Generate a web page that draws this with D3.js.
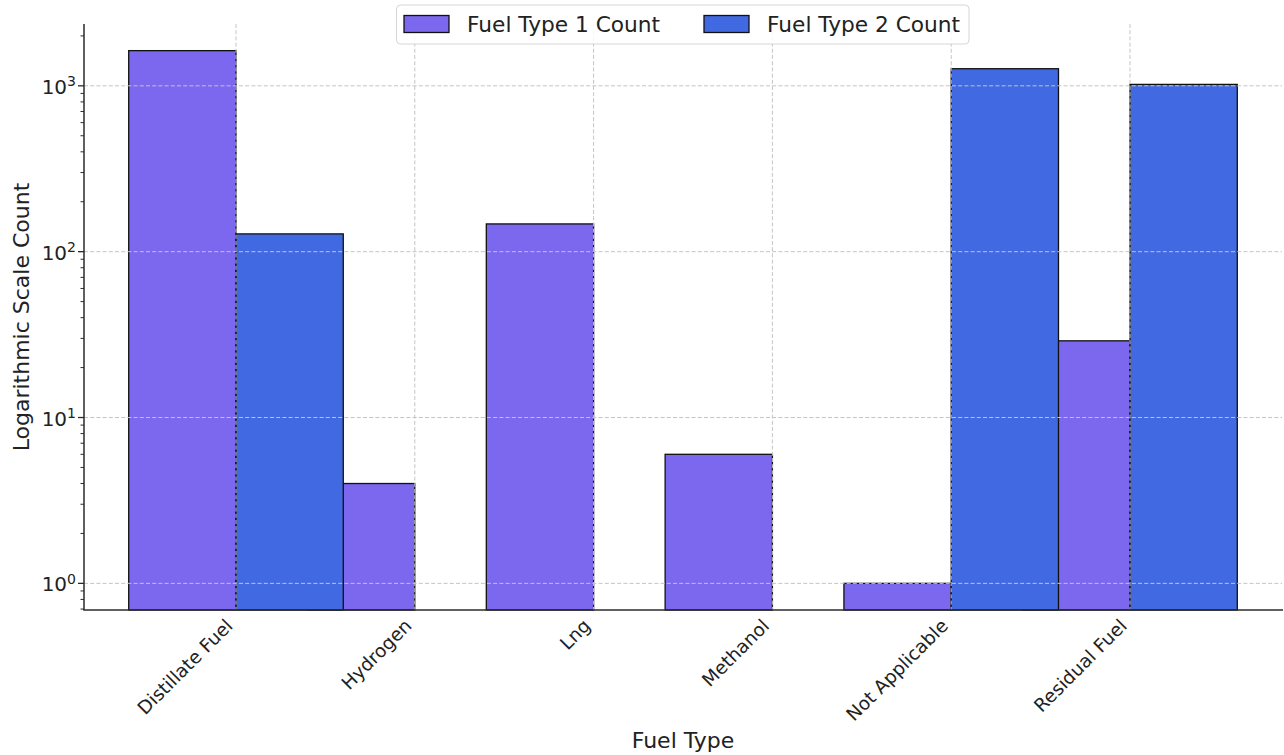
<!DOCTYPE html>
<html>
<head>
<meta charset="utf-8">
<script src="https://cdn.jsdelivr.net/npm/d3@7"></script>
<style>
  html, body { margin: 0; padding: 0; background: #fff; }
  svg { display: block; font-family: "DejaVu Sans", sans-serif; }
</style>
</head>
<body>
<svg id="chart" width="1284" height="755"></svg>
<script>
// Fuel type counts per category (log scale)
const categories = ["Distillate Fuel", "Hydrogen", "Lng", "Methanol", "Not Applicable", "Residual Fuel"];
const fuelType1 = [1630, 4, 147, 6, 1, 29];
const fuelType2 = [128, 0, 0, 0, 1268, 1020];
const seriesNames = ["Fuel Type 1 Count", "Fuel Type 2 Count"];
const seriesColors = ["#7B68EE", "#4169E1"];
const yTickExponents = [0, 1, 2, 3];

const svg = d3.select("#chart");
const plotLeft = 84, plotRight = 1282, plotTop = 24, plotBottom = 610;
const barWidth = 0.6;

const x = d3.scaleLinear().domain([-0.85, categories.length - 1 + 0.85]).range([plotLeft, plotRight]);

// log-scale limits padded by 5% of the decades spanned
const allVals = fuelType1.concat(fuelType2).filter(v => v > 0);
const lmin = Math.log10(d3.min(allVals)), lmax = Math.log10(d3.max(allVals));
const pad = 0.05 * (lmax - lmin);
const y = d3.scaleLog().domain([Math.pow(10, lmin - pad), Math.pow(10, lmax + pad)]).range([plotBottom, plotTop]);
const y0 = y.domain()[0];

// bars: series 1 left of each tick, series 2 right of it
const series = [fuelType1, fuelType2];
const offsets = [-barWidth, 0];
series.forEach((vals, s) => {
  svg.append("g").selectAll("rect")
    .data(vals.map((v, i) => ({ v, i })).filter(d => d.v > 0))
    .join("rect")
    .attr("x", d => x(d.i + offsets[s]))
    .attr("width", d => x(d.i + offsets[s] + barWidth) - x(d.i + offsets[s]))
    .attr("y", d => y(d.v))
    .attr("height", d => y(y0) - y(d.v))
    .attr("fill", seriesColors[s])
    .attr("stroke", "#111")
    .attr("stroke-width", 1.3);
});

// dashed grid drawn over the bars
const grid = svg.append("g")
  .attr("stroke", "#c4c4c4")
  .attr("stroke-width", 1)
  .attr("stroke-dasharray", "4,2.2");
grid.selectAll("line.v").data(categories).join("line")
  .attr("class", "v")
  .attr("x1", (d, i) => x(i)).attr("x2", (d, i) => x(i))
  .attr("y1", plotTop).attr("y2", plotBottom);
grid.selectAll("line.h").data(yTickExponents).join("line")
  .attr("class", "h")
  .attr("x1", plotLeft).attr("x2", plotRight)
  .attr("y1", d => y(Math.pow(10, d))).attr("y2", d => y(Math.pow(10, d)));

// y axis: major and minor ticks
const minorTicks = y.ticks().filter(t => {
  const l = Math.log10(t);
  return Math.abs(l - Math.round(l)) > 1e-9;
});
const axisColor = "#2b2b2b";
svg.append("g").selectAll("line").data(minorTicks).join("line")
  .attr("x1", plotLeft - 3.5).attr("x2", plotLeft)
  .attr("y1", d => y(d)).attr("y2", d => y(d))
  .attr("stroke", axisColor).attr("stroke-width", 1);
svg.append("g").selectAll("line").data(yTickExponents).join("line")
  .attr("x1", plotLeft - 6).attr("x2", plotLeft)
  .attr("y1", d => y(Math.pow(10, d))).attr("y2", d => y(Math.pow(10, d)))
  .attr("stroke", axisColor).attr("stroke-width", 1.3);

const yLabels = svg.append("g").selectAll("text").data(yTickExponents).join("text")
  .attr("x", plotLeft - 8)
  .attr("y", d => y(Math.pow(10, d)) + 8)
  .attr("text-anchor", "end")
  .attr("fill", "#222")
  .attr("font-size", 20);
yLabels.append("tspan").text("10");
yLabels.append("tspan").attr("font-size", 14).attr("dy", -7.5).text(d => d);

// spines
svg.append("line").attr("x1", plotLeft).attr("x2", plotLeft).attr("y1", plotTop).attr("y2", plotBottom)
  .attr("stroke", axisColor).attr("stroke-width", 1.5);
svg.append("line").attr("x1", plotLeft - 0.75).attr("x2", plotRight + 1).attr("y1", plotBottom).attr("y2", plotBottom)
  .attr("stroke", axisColor).attr("stroke-width", 1.5);

// x tick labels rotated 45°
svg.append("g").selectAll("text").data(categories).join("text")
  .attr("transform", (d, i) => `translate(${x(i) - 2},${plotBottom + 17}) rotate(-45)`)
  .attr("text-anchor", "end")
  .attr("fill", "#222")
  .attr("font-size", 18.5)
  .text(d => d);

// axis titles
svg.append("text")
  .attr("x", (plotLeft + plotRight) / 2).attr("y", 748)
  .attr("text-anchor", "middle").attr("fill", "#222").attr("font-size", 22)
  .text("Fuel Type");
svg.append("text")
  .attr("transform", `translate(29,${(plotTop + plotBottom) / 2}) rotate(-90)`)
  .attr("text-anchor", "middle").attr("fill", "#222").attr("font-size", 22)
  .text("Logarithmic Scale Count");

// legend
const legend = svg.append("g");
legend.append("rect")
  .attr("x", 396.5).attr("y", 5).attr("width", 572.5).attr("height", 39)
  .attr("rx", 4).attr("fill", "#fff").attr("fill-opacity", 0.85)
  .attr("stroke", "#d6d6d6").attr("stroke-width", 1);
const legendX = [404, 704];
seriesNames.forEach((name, s) => {
  legend.append("rect")
    .attr("x", legendX[s]).attr("y", 15.5).attr("width", 45).attr("height", 17)
    .attr("fill", seriesColors[s]).attr("stroke", "#111").attr("stroke-width", 1.3);
  legend.append("text")
    .attr("x", legendX[s] + 63).attr("y", 31.8)
    .attr("fill", "#222").attr("font-size", 21.7)
    .text(name);
});
</script>
</body>
</html>
